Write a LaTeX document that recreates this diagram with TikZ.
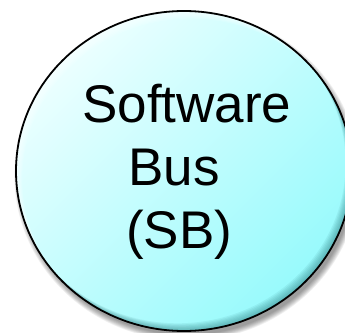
\documentclass[tikz,border=0pt]{standalone}
\usepackage{fontspec}
\setmainfont{Liberation Sans}
\definecolor{sblight}{RGB}{236,255,255}
\definecolor{sbdark}{RGB}{150,250,252}
\definecolor{sbedge}{RGB}{40,120,125}
\tikzset{
  sbtext/.style={anchor=base west, inner sep=0pt, font=\fontsize{53}{62}\selectfont, text=black},
}
\begin{document}
\begin{tikzpicture}[x=1pt,y=-1pt]
\useasboundingbox (0,0) rectangle (345,332);
\clip (0,0) rectangle (345,332);
\def\cx{184}\def\cy{171}
% drop shadow
\foreach \i in {0,...,7}{
  \fill[black, opacity=0.06] (\cx+3,\cy+5) ellipse [x radius={(167+\i*0.8)*1pt}, y radius={(159+\i*0.8)*1pt}];
}
% body
\shade[top color=sblight, bottom color=sbdark, shading angle=45]
  (\cx,\cy) ellipse [x radius=168pt, y radius=160pt];
% bevel
\begin{scope}
  \clip (\cx,\cy) ellipse [x radius=168pt, y radius=160pt];
  \foreach \i in {1,...,7}{
    \fill[sbedge, opacity=0.09, even odd rule]
      (\cx,\cy) ellipse [x radius=168pt, y radius=160pt]
      (\cx-\i*0.9,\cy-\i*1.1) ellipse [x radius=168pt, y radius=160pt];
    \fill[white, opacity=0.12, even odd rule]
      (\cx,\cy) ellipse [x radius=168pt, y radius=160pt]
      (\cx+\i*0.9,\cy+\i*1.1) ellipse [x radius=168pt, y radius=160pt];
  }
\end{scope}
\draw[black, line width=1.8pt] (\cx,\cy) ellipse [x radius=168pt, y radius=160pt];
% text
\node[sbtext] (sw) at (82,122) {Software};
\node[sbtext] (bus) at (128,185) {Bus};
\node[sbtext] (sb) at (126,248) {(SB)};
\end{tikzpicture}
\end{document}
